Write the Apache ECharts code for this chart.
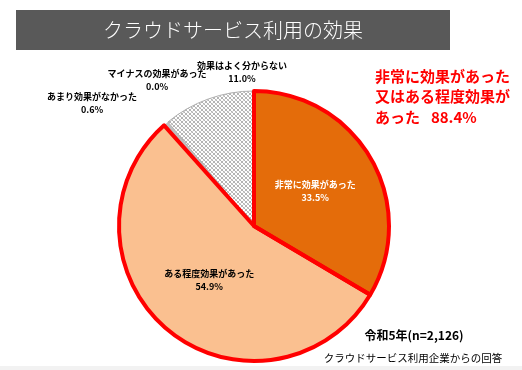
<!DOCTYPE html>
<html>
<head>
<meta charset="utf-8">
<script src="https://cdn.jsdelivr.net/npm/echarts@6/dist/echarts.min.js"></script>
<style>
html,body{margin:0;padding:0;background:#fff;}
#c{width:522px;height:370px;}
</style>
</head>
<body>
<div id="c"></div>
<script>
// ---- data ----
const categories = ['非常に効果があった', 'ある程度効果があった', 'あまり効果がなかった', 'マイナスの効果があった', '効果はよく分からない'];
const values = [33.5, 54.9, 0.6, 0.0, 11.0];
const titleText = 'クラウドサービス利用の効果';
const highlightText = '非常に効果があった\n又はある程度効果が\nあった\u2002 88.4%';
const yearText = '令和5年(n=2,126)';
const sourceText = 'クラウドサービス利用企業からの回答';

// ---- styling ----
const FONT = '"Noto Sans CJK JP", "Noto Sans", sans-serif';

function hatch() {
  const c = document.createElement('canvas');
  c.width = 4; c.height = 4;
  const g = c.getContext('2d');
  g.fillStyle = '#ffffff'; g.fillRect(0, 0, 4, 4);
  g.fillStyle = '#b4b4b4';
  [[0,0],[1,1],[2,2],[3,3],[2,1],[1,2]].forEach(p => g.fillRect(p[0], p[1], 1, 1));
  g.fillStyle = '#cfcfcf';
  [[3,0],[0,3]].forEach(p => g.fillRect(p[0], p[1], 1, 1));
  return c;
}
const fills = ['#E46C0A', '#FAC090', '#BFBFBF', '#BFBFBF', {image: hatch(), repeat: 'repeat'}];
const outlined = [true, true, false, false, false];
const labelColors = ['#ffffff', '#000000', '#000000', '#000000', '#000000'];
const outsideLabelPos = {2: [92, 103], 3: [157, 80], 4: [242, 72]};

const center = [254, 226];
const radius = 135;

const fillData = categories.map((n, i) => ({
  name: n, value: values[i],
  itemStyle: {
    color: fills[i],
    borderColor: i === 4 ? '#b0b0b0' : fills[i],
    borderWidth: i === 4 ? 1 : 0
  },
  label: {
    position: i < 2 ? 'inside' : 'outside',
    color: labelColors[i]
  }
}));
const outlineData = categories.map((n, i) => ({
  name: n, value: values[i],
  itemStyle: {
    color: 'rgba(0,0,0,0)',
    borderColor: outlined[i] ? '#FF0000' : 'rgba(0,0,0,0)',
    borderWidth: outlined[i] ? 4 : 0
  }
}));

const chart = echarts.init(document.getElementById('c'), null, {renderer: 'canvas'});
chart.setOption({
  backgroundColor: '#ffffff',
  animation: false,
  graphic: [
    {type: 'rect', shape: {x: 16, y: 10, width: 434, height: 40}, style: {fill: '#595959'}, z: 0},
    {type: 'text', x: 233, y: 30, style: {text: titleText, fill: '#ffffff', font: '300 20px ' + FONT, align: 'center', verticalAlign: 'middle'}, z: 1},
    {type: 'text', x: 375, y: 66, style: {text: highlightText, fill: '#FF0000', font: 'bold 15px ' + FONT, lineHeight: 20.5, align: 'left', verticalAlign: 'top'}},
    {type: 'text', x: 414, y: 335, style: {text: yearText, fill: '#000000', font: 'bold 12px ' + FONT, align: 'center', verticalAlign: 'middle'}},
    {type: 'text', x: 413, y: 358, style: {text: sourceText, fill: '#000000', font: '10.5px ' + FONT, align: 'center', verticalAlign: 'middle'}},
    {type: 'rect', shape: {x: 0, y: 366, width: 522, height: 4}, style: {fill: '#f2f2f2'}}
  ],
  series: [
    {
      type: 'pie',
      center: center,
      radius: radius,
      startAngle: 90,
      clockwise: true,
      minAngle: 0,
      avoidLabelOverlap: false,
      stillShowZeroSum: true,
      label: {
        show: true,
        formatter: p => p.name + '\n' + p.value.toFixed(1) + '%',
        fontFamily: FONT,
        fontSize: 9,
        fontWeight: 'bold',
        lineHeight: 13,
        align: 'center'
      },
      labelLine: {show: false},
      labelLayout: function (p) {
        const pos = outsideLabelPos[p.dataIndex];
        if (pos) return {x: pos[0], y: pos[1], align: 'center', verticalAlign: 'middle'};
        return {};
      },
      emphasis: {disabled: true},
      data: fillData,
      z: 2
    },
    {
      type: 'pie',
      center: center,
      radius: radius,
      startAngle: 90,
      clockwise: true,
      silent: true,
      label: {show: false},
      labelLine: {show: false},
      emphasis: {disabled: true},
      data: outlineData,
      z: 3
    }
  ]
});
</script>
</body>
</html>
